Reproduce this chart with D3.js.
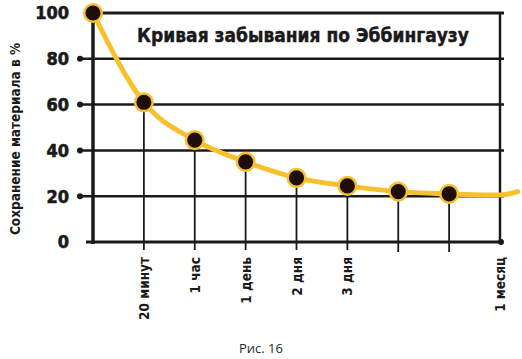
<!DOCTYPE html>
<html>
<head>
<meta charset="utf-8">
<script src="https://cdn.jsdelivr.net/npm/d3@7"></script>
<style>
  body { margin: 0; background: #fff; }
  svg { display: block; }
  .lbl { font-family: "DejaVu Sans Condensed", "DejaVu Sans", sans-serif; font-weight: bold; fill: #1a1a1a; }
</style>
</head>
<body>
<div id="container"></div>
<script>
// categories along the time axis (index = position)
var timeLabels = ["", "20 минут", "1 час", "1 день", "2 дня", "3 дня", "", "", "1 месяц"];
// retained material, %
var retention = [100, 61, 44.5, 35, 28, 24.5, 22, 21];
// curve continues past the last dot
var tailPos = [8, 8.35];
var tailVal = [20.5, 22];
var yTicks = [0, 20, 40, 60, 80, 100];

var width = 522, height = 359;
var ink = "#1a1a1a", gold = "#f6c12d";

var svg = d3.select("#container").append("svg")
    .attr("width", width)
    .attr("height", height);

var x = d3.scaleLinear().domain([0, 8]).range([93, 500]);
var y = d3.scaleLinear().domain([0, 100]).range([242, 13]);

//horizontal grid lines with dotted left ends
yTicks.filter(function(d) { return d > 0 && d < 100; }).forEach(function(t) {
  svg.append("line")
    .attr("x1", 80).attr("x2", x(8) + 4)
    .attr("y1", y(t)).attr("y2", y(t))
    .attr("stroke", ink).attr("stroke-width", 2.5);
  svg.append("circle")
    .attr("cx", 80).attr("cy", y(t)).attr("r", 3)
    .attr("fill", ink);
});

//top border
svg.append("line")
  .attr("x1", x(0)).attr("x2", x(8) + 4)
  .attr("y1", y(100)).attr("y2", y(100))
  .attr("stroke", ink).attr("stroke-width", 3);

//drop lines from each dot to the axis
retention.forEach(function(v, i) {
  if (i === 0) return;
  svg.append("line")
    .attr("x1", x(i)).attr("x2", x(i))
    .attr("y1", y(v)).attr("y2", y(0) + (i >= 6 ? 10 : 8))
    .attr("stroke", ink).attr("stroke-width", 1.8);
});

//right border
svg.append("line")
  .attr("x1", x(8)).attr("x2", x(8))
  .attr("y1", y(100)).attr("y2", y(0))
  .attr("stroke", ink).attr("stroke-width", 2.5);

//axes
svg.append("line")
  .attr("x1", x(0)).attr("x2", x(0))
  .attr("y1", y(100) - 3).attr("y2", y(0) + 2)
  .attr("stroke", ink).attr("stroke-width", 3.5);
svg.append("line")
  .attr("x1", 86).attr("x2", x(8) + 3)
  .attr("y1", y(0)).attr("y2", y(0))
  .attr("stroke", ink).attr("stroke-width", 3.2);
svg.append("circle")
  .attr("cx", x(8) + 1).attr("cy", y(0)).attr("r", 3)
  .attr("fill", ink);

//y tick labels
svg.selectAll("text.ytick")
  .data(yTicks)
  .enter().append("text")
  .attr("class", "lbl ytick")
  .attr("x", 69)
  .attr("y", function(d) { return y(d); })
  .attr("dy", "0.36em")
  .attr("text-anchor", "end")
  .style("font-size", "18px")
  .style("stroke", ink)
  .style("stroke-width", 0.6)
  .text(function(d) { return d; });

//y axis title
svg.append("text")
  .attr("class", "lbl")
  .attr("transform", "translate(20,139) rotate(-90)")
  .attr("text-anchor", "middle")
  .style("font-size", "13.5px")
  .text("Сохранение материала в %");

//x labels
svg.selectAll("text.xtick")
  .data(timeLabels)
  .enter().append("text")
  .attr("class", "lbl xtick")
  .attr("transform", function(d, i) { return "translate(" + (x(i) + 5) + "," + 257 + ") rotate(-90)"; })
  .attr("text-anchor", "end")
  .style("font-size", "13.5px")
  .text(function(d) { return d; });

//title
svg.append("text")
  .attr("class", "lbl")
  .attr("x", 303).attr("y", 42)
  .attr("text-anchor", "middle")
  .style("font-size", "19px")
  .style("stroke", ink)
  .style("stroke-width", 0.4)
  .text("Кривая забывания по Эббингаузу");

//the curve
var pts = retention.map(function(v, i) { return [i, v]; })
  .concat(tailPos.map(function(p, j) { return [p, tailVal[j]]; }));
var line = d3.line()
  .x(function(d) { return x(d[0]); })
  .y(function(d) { return y(d[1]); })
  .curve(d3.curveMonotoneX);
svg.append("path")
  .attr("d", line(pts))
  .attr("fill", "none")
  .attr("stroke", gold)
  .attr("stroke-width", 5)
  .attr("stroke-linecap", "round");

//dots
svg.selectAll("circle.dot")
  .data(retention)
  .enter().append("circle")
  .attr("class", "dot")
  .attr("cx", function(d, i) { return x(i); })
  .attr("cy", function(d) { return y(d); })
  .attr("r", 8.8)
  .attr("fill", "#1f0e07")
  .attr("stroke", gold)
  .attr("stroke-width", 2.5);

//caption
svg.append("text")
  .attr("x", 261).attr("y", 348)
  .attr("dy", "0.35em")
  .attr("text-anchor", "middle")
  .style("font-family", "'Open Sans', sans-serif")
  .style("font-size", "13px")
  .style("fill", "#2a2a2a")
  .text("Рис. 16");
</script>
</body>
</html>
